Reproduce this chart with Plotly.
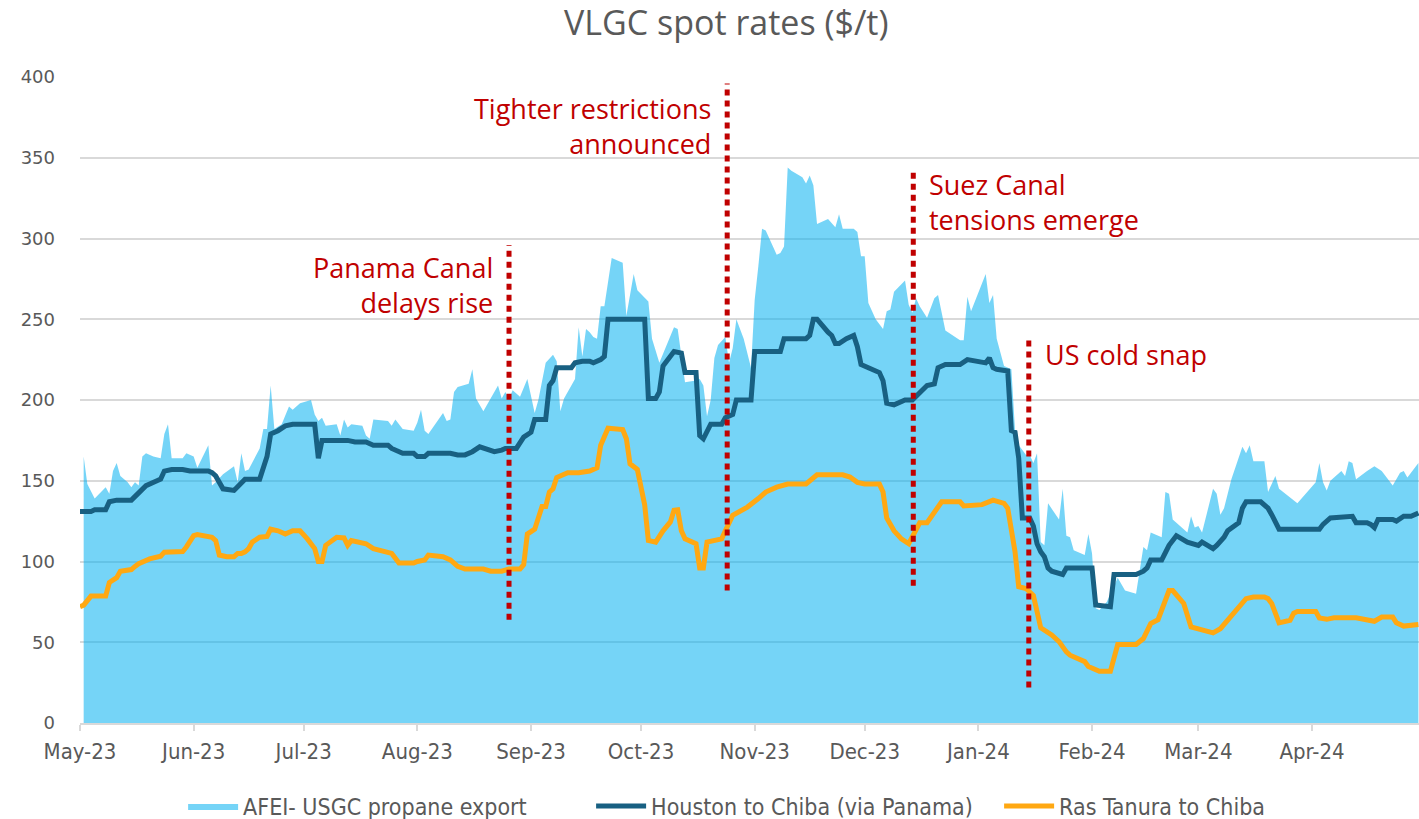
import plotly.graph_objects as go

# ---------------- data ----------------
afei_dates = [
    "2023-05-02","2023-05-03","2023-05-05","2023-05-08","2023-05-09","2023-05-10","2023-05-11","2023-05-12",
    "2023-05-14","2023-05-15","2023-05-16","2023-05-17","2023-05-18","2023-05-19","2023-05-21","2023-05-23",
    "2023-05-24","2023-05-25","2023-05-26","2023-05-29","2023-05-30","2023-06-01","2023-06-02","2023-06-05",
    "2023-06-06","2023-06-07","2023-06-09","2023-06-12","2023-06-13","2023-06-14","2023-06-15","2023-06-16",
    "2023-06-19","2023-06-20","2023-06-21","2023-06-22","2023-06-23","2023-06-25","2023-06-27","2023-06-28",
    "2023-06-29","2023-06-30","2023-07-03","2023-07-04","2023-07-05","2023-07-06","2023-07-07","2023-07-10",
    "2023-07-11","2023-07-12","2023-07-13","2023-07-14","2023-07-17","2023-07-18","2023-07-19","2023-07-20",
    "2023-07-24","2023-07-25","2023-07-26","2023-07-28","2023-07-31","2023-08-01","2023-08-02","2023-08-03",
    "2023-08-04","2023-08-08","2023-08-09","2023-08-10","2023-08-11","2023-08-12","2023-08-15","2023-08-16",
    "2023-08-17","2023-08-19","2023-08-23","2023-08-24","2023-08-25","2023-08-26","2023-08-27","2023-08-29",
    "2023-08-31","2023-09-02","2023-09-03","2023-09-05","2023-09-07","2023-09-08","2023-09-09","2023-09-10",
    "2023-09-13","2023-09-14","2023-09-15","2023-09-16","2023-09-17","2023-09-18","2023-09-19","2023-09-20",
    "2023-09-21","2023-09-23","2023-09-26","2023-09-27","2023-09-29","2023-09-30","2023-10-03","2023-10-04",
    "2023-10-06","2023-10-10","2023-10-11","2023-10-12","2023-10-13","2023-10-16","2023-10-17","2023-10-18",
    "2023-10-19","2023-10-20","2023-10-21","2023-10-22","2023-10-24","2023-10-25","2023-10-26","2023-10-27",
    "2023-10-29","2023-10-31","2023-11-01","2023-11-02","2023-11-03","2023-11-04","2023-11-07","2023-11-08",
    "2023-11-09","2023-11-10","2023-11-11","2023-11-14","2023-11-15","2023-11-16","2023-11-17","2023-11-18",
    "2023-11-21","2023-11-23","2023-11-24","2023-11-25","2023-11-28","2023-11-29","2023-11-30","2023-12-01",
    "2023-12-02","2023-12-04","2023-12-06","2023-12-07","2023-12-08","2023-12-09","2023-12-12","2023-12-13",
    "2023-12-14","2023-12-15","2023-12-16","2023-12-18","2023-12-20","2023-12-21","2023-12-23","2023-12-27",
    "2023-12-28","2023-12-29","2023-12-30","2024-01-03","2024-01-04","2024-01-05","2024-01-06","2024-01-08",
    "2024-01-10","2024-01-11","2024-01-12","2024-01-13","2024-01-14","2024-01-15","2024-01-16","2024-01-17",
    "2024-01-18","2024-01-19","2024-01-20","2024-01-23","2024-01-24","2024-01-25","2024-01-26","2024-01-27",
    "2024-01-30","2024-01-31","2024-02-01","2024-02-02","2024-02-03","2024-02-05","2024-02-06","2024-02-08",
    "2024-02-10","2024-02-13","2024-02-15","2024-02-16","2024-02-17","2024-02-20","2024-02-21","2024-02-22",
    "2024-02-23","2024-02-27","2024-02-28","2024-02-29","2024-03-01","2024-03-02","2024-03-05","2024-03-06",
    "2024-03-07","2024-03-08","2024-03-10","2024-03-13","2024-03-14","2024-03-15","2024-03-16","2024-03-19",
    "2024-03-20","2024-03-22","2024-03-23","2024-03-28","2024-04-02","2024-04-03","2024-04-04","2024-04-05",
    "2024-04-06","2024-04-09","2024-04-10","2024-04-11","2024-04-12","2024-04-13","2024-04-16","2024-04-18",
    "2024-04-20","2024-04-23","2024-04-25","2024-04-26","2024-04-27","2024-04-30",
]
afei_values = [
    165,148,139,146,142,156,161,153,
    149,146,149,147,165,167,165,164,
    179,185,164,164,167,165,158,172,
    147,149,154,159,149,167,156,157,
    170,182,182,209,182,185,196,194,
    196,198,200,191,187,189,184,185,
    178,188,183,185,184,178,176,188,
    187,184,188,182,181,186,194,181,
    179,192,187,188,205,208,210,219,
    201,193,209,201,205,201,206,202,
    213,192,200,223,228,224,193,201,
    213,245,227,244,242,239,238,258,
    258,288,285,252,278,268,261,238,
    223,245,244,229,211,212,213,209,
    190,200,226,234,239,223,232,250,
    238,220,262,283,306,305,290,291,
    295,344,342,338,334,339,333,309,
    312,307,315,306,306,304,289,289,
    260,250,244,255,256,267,274,259,
    254,263,258,251,263,265,243,237,
    237,264,255,278,260,265,238,221,
    219,181,172,169,166,166,161,167,
    112,110,136,126,145,116,115,107,
    104,117,105,71,70,75,80,90,
    82,80,109,107,118,115,143,142,
    126,118,128,121,122,118,145,142,
    129,133,151,171,167,172,162,162,
    143,153,145,136,149,161,149,144,
    150,156,153,162,161,151,156,159,
    156,147,155,156,152,161,
]

houston_dates = [
    "2023-05-01","2023-05-04","2023-05-05","2023-05-08","2023-05-09","2023-05-11","2023-05-15","2023-05-16",
    "2023-05-17","2023-05-19","2023-05-22","2023-05-23","2023-05-24","2023-05-26","2023-05-29","2023-05-31",
    "2023-06-05","2023-06-06","2023-06-07","2023-06-09","2023-06-12","2023-06-14","2023-06-15","2023-06-19",
    "2023-06-21","2023-06-22","2023-06-24","2023-06-26","2023-06-28","2023-07-04","2023-07-05","2023-07-06",
    "2023-07-13","2023-07-15","2023-07-18","2023-07-20","2023-07-24","2023-07-25","2023-07-26","2023-07-28",
    "2023-07-31","2023-08-01","2023-08-03","2023-08-04","2023-08-10","2023-08-12","2023-08-14","2023-08-16",
    "2023-08-18","2023-08-22","2023-08-24","2023-08-25","2023-08-28","2023-08-30","2023-09-01","2023-09-02",
    "2023-09-05","2023-09-06","2023-09-07","2023-09-08","2023-09-12","2023-09-13","2023-09-15","2023-09-17",
    "2023-09-18","2023-09-20","2023-09-21","2023-09-22","2023-10-02","2023-10-03","2023-10-05","2023-10-06",
    "2023-10-07","2023-10-10","2023-10-12","2023-10-13","2023-10-16","2023-10-17","2023-10-18","2023-10-19",
    "2023-10-20","2023-10-23","2023-10-24","2023-10-26","2023-10-27","2023-10-31","2023-11-01","2023-11-08",
    "2023-11-09","2023-11-15","2023-11-16","2023-11-17","2023-11-18","2023-11-21","2023-11-22","2023-11-23",
    "2023-11-24","2023-11-26","2023-11-28","2023-11-29","2023-11-30","2023-12-02","2023-12-05","2023-12-06",
    "2023-12-07","2023-12-09","2023-12-12","2023-12-14","2023-12-16","2023-12-18","2023-12-20","2023-12-21",
    "2023-12-23","2023-12-27","2023-12-29","2024-01-03","2024-01-04","2024-01-05","2024-01-06","2024-01-09",
    "2024-01-10","2024-01-11","2024-01-12","2024-01-13","2024-01-15","2024-01-16","2024-01-17","2024-01-18",
    "2024-01-19","2024-01-20","2024-01-21","2024-01-24","2024-01-25","2024-02-01","2024-02-02","2024-02-06",
    "2024-02-07","2024-02-13","2024-02-15","2024-02-16","2024-02-17","2024-02-20","2024-02-22","2024-02-24",
    "2024-02-27","2024-03-01","2024-03-02","2024-03-05","2024-03-06","2024-03-08","2024-03-09","2024-03-12",
    "2024-03-13","2024-03-14","2024-03-18","2024-03-20","2024-03-21","2024-03-23","2024-04-03","2024-04-04",
    "2024-04-06","2024-04-12","2024-04-13","2024-04-16","2024-04-17","2024-04-18","2024-04-19","2024-04-23",
    "2024-04-24","2024-04-26","2024-04-28","2024-04-30",
]
houston_values = [
    131,131,132,132,137,138,138,140,
    142,147,150,151,156,157,157,156,
    156,155,153,145,144,148,151,151,
    165,179,181,184,185,185,164,175,
    175,174,174,172,172,170,169,167,
    167,165,165,167,167,166,166,168,
    171,168,169,170,170,177,180,188,
    188,209,212,220,220,223,224,224,
    223,225,227,250,250,201,201,205,
    221,230,229,217,217,178,176,180,
    185,185,189,191,200,200,230,230,
    238,238,240,250,250,242,240,235,
    235,238,240,233,222,220,217,212,
    198,197,200,200,205,209,210,220,
    222,222,225,223,226,220,219,218,
    181,180,164,127,127,122,111,106,
    103,96,94,92,96,96,73,72,
    92,92,94,96,101,101,110,116,
    112,110,112,108,110,115,119,124,
    133,137,137,133,129,120,120,123,
    127,128,124,124,123,121,126,126,
    125,128,128,130,
]

ras_dates = [
    "2023-05-01","2023-05-02","2023-05-04","2023-05-08","2023-05-09","2023-05-10","2023-05-11","2023-05-12",
    "2023-05-15","2023-05-16","2023-05-17","2023-05-20","2023-05-23","2023-05-24","2023-05-29","2023-05-30",
    "2023-06-01","2023-06-02","2023-06-06","2023-06-07","2023-06-08","2023-06-10","2023-06-12","2023-06-13",
    "2023-06-14","2023-06-15","2023-06-16","2023-06-17","2023-06-19","2023-06-21","2023-06-22","2023-06-24",
    "2023-06-26","2023-06-28","2023-06-30","2023-07-02","2023-07-04","2023-07-05","2023-07-06","2023-07-07",
    "2023-07-10","2023-07-12","2023-07-13","2023-07-14","2023-07-16","2023-07-18","2023-07-20","2023-07-22",
    "2023-07-25","2023-07-27","2023-07-31","2023-08-01","2023-08-03","2023-08-04","2023-08-08","2023-08-10",
    "2023-08-12","2023-08-14","2023-08-19","2023-08-21","2023-08-24","2023-08-26","2023-08-29","2023-08-30",
    "2023-08-31","2023-09-02","2023-09-04","2023-09-05","2023-09-06","2023-09-07","2023-09-08","2023-09-11",
    "2023-09-14","2023-09-17","2023-09-19","2023-09-20","2023-09-22","2023-09-26","2023-09-27","2023-09-28",
    "2023-09-30","2023-10-02","2023-10-03","2023-10-05","2023-10-07","2023-10-09","2023-10-10","2023-10-11",
    "2023-10-12","2023-10-13","2023-10-16","2023-10-17","2023-10-18","2023-10-19","2023-10-21","2023-10-23",
    "2023-10-24","2023-10-26","2023-10-30","2023-10-31","2023-11-02","2023-11-04","2023-11-07","2023-11-10",
    "2023-11-15","2023-11-18","2023-11-25","2023-11-27","2023-11-29","2023-12-01","2023-12-05","2023-12-06",
    "2023-12-07","2023-12-09","2023-12-11","2023-12-13","2023-12-15","2023-12-16","2023-12-18","2023-12-20",
    "2023-12-22","2023-12-27","2023-12-28","2024-01-02","2024-01-05","2024-01-08","2024-01-09","2024-01-11",
    "2024-01-12","2024-01-14","2024-01-16","2024-01-17","2024-01-18","2024-01-21","2024-01-23","2024-01-25",
    "2024-01-26","2024-01-30","2024-01-31","2024-02-03","2024-02-06","2024-02-08","2024-02-13","2024-02-15",
    "2024-02-17","2024-02-19","2024-02-21","2024-02-22","2024-02-23","2024-02-24","2024-02-26","2024-02-28",
    "2024-03-01","2024-03-05","2024-03-07","2024-03-09","2024-03-11","2024-03-12","2024-03-14","2024-03-16",
    "2024-03-19","2024-03-20","2024-03-21","2024-03-23","2024-03-26","2024-03-27","2024-03-28","2024-04-02",
    "2024-04-03","2024-04-05","2024-04-07","2024-04-13","2024-04-16","2024-04-18","2024-04-20","2024-04-23",
    "2024-04-24","2024-04-26","2024-04-30",
]
ras_values = [
    72,73,78.6,78.6,87,89,90,94,
    95,97,98.6,101.6,103.3,105.8,106.2,109,
    116,116.7,115,113,104,103,103,105,
    105,106,108,112,115,115.5,120,119,
    117,119,119,114,108,100,100,110,
    115,114.6,110,113,112,111,108,107,
    105,99,99,100,101,104,103,101,
    97,95.3,95.3,94,94,95.3,95.3,98,
    117,120,134,134,143,145,152,155,
    155,156,158,172,182.5,181.7,176,160.5,
    157,135,113,112,119,124.5,131.7,132,
    119,114,111,96,96,112,113,114,
    119,128.6,133.7,135.8,139,143,146,148,
    148,153.7,153.7,152.3,149,148,148,143,
    127,119,114,111,120,124,124,130,
    137,137,134.4,135.2,138,136,133,106,
    84.4,83.3,79,69,59,54.5,50.4,44,
    42,38,35,32,32,48.6,48.6,52.3,
    61.5,64,77,82,82,79,74,59.5,
    58.4,55.8,58.4,63.6,68.7,71.8,77,78,
    78,77,74,62,63.6,68,69,69,
    65,64.2,65.2,65.2,64.2,63,65.6,65.6,
    62,60,61,
]

# event markers
event_dates = ["2023-08-26", "2023-10-24 12:00", "2023-12-14 06:00", "2024-01-14 18:00"]
event_labels = ["Panama Canal<br>delays rise", "Tighter restrictions<br>announced",
                "Suez Canal<br>tensions emerge", "US cold snap"]
event_line_bottom = [64, 82, 85, 22]
event_line_top = [296, 396, 342, 238]
event_label_y = [271.5, 369.5, 322.5, 228]
event_label_side = ["left", "left", "right", "right"]

series_names = ["AFEI- USGC propane export", "Houston to Chiba (via Panama)", "Ras Tanura to Chiba"]
title_text = "VLGC spot rates ($/t)"
y_ticks = [0, 50, 100, 150, 200, 250, 300, 350, 400]

# ---------------- figure ----------------
GREY = "#595959"
RED = "#C00000"
NARROW = "DejaVu Sans Condensed, Liberation Sans Narrow, sans-serif"

fig = go.Figure()
fig.add_trace(go.Scatter(
    x=afei_dates, y=afei_values, name=series_names[0], mode="lines",
    line=dict(width=0, color="rgba(0,176,240,0.55)"), fill="tozeroy",
    fillcolor="rgba(0,176,240,0.54)"))
fig.add_trace(go.Scatter(
    x=houston_dates, y=houston_values, name=series_names[1], mode="lines",
    line=dict(width=5, color="#186082")))
fig.add_trace(go.Scatter(
    x=ras_dates, y=ras_values, name=series_names[2], mode="lines",
    line=dict(width=5, color="#FFA812")))

for d, lo, hi in zip(event_dates, event_line_bottom, event_line_top):
    fig.add_trace(go.Scatter(
        x=[d, d], y=[lo, hi], mode="lines", showlegend=False, hoverinfo="skip",
        line=dict(color=RED, width=5, dash="6px,5px")))

for d, txt, yv, side in zip(event_dates, event_labels, event_label_y, event_label_side):
    fig.add_annotation(
        x=d, y=yv, xref="x", yref="y", text=txt, showarrow=False,
        xanchor="right" if side == "left" else "left", yanchor="middle",
        align="right" if side == "left" else "left",
        xshift=-14 if side == "left" else 14,
        font=dict(family="Open Sans", size=27, color=RED))

fig.add_annotation(
    x=0.4825, xref="paper", y=1 + (77 - 22) / 646, yref="paper",
    text=title_text, showarrow=False, xanchor="center", yanchor="middle",
    font=dict(family="Open Sans", size=34, color=GREY))

fig.update_layout(
    width=1419, height=819,
    margin=dict(l=80, r=0, t=77, b=96, autoexpand=False),
    paper_bgcolor="white", plot_bgcolor="white",
    showlegend=True,
    legend=dict(orientation="h", x=0.077, xref="paper", xanchor="left",
                y=1 - 806 / 819, yref="container", yanchor="middle",
                font=dict(family=NARROW, size=23, color=GREY),
                itemwidth=50, entrywidth=343, traceorder="normal"),
)
fig.update_xaxes(
    type="date", range=["2023-05-01", "2024-04-30 04:00"], automargin=False,
    tick0="2023-05-01", dtick="M1", tickformat="%b-%y",
    showgrid=False, showline=True, linecolor="#D9D9D9", linewidth=1.5,
    ticks="outside", ticklen=6, tickcolor="#D9D9D9", tickwidth=1.5,
    tickfont=dict(family=NARROW, size=22, color=GREY),
    ticklabelstandoff=2, zeroline=False)
fig.update_yaxes(
    range=[0, 400], tickvals=y_ticks, automargin=False,
    showgrid=True, gridcolor="#D9D9D9", gridwidth=1.5,
    zeroline=False, showline=False, ticks="",
    tickfont=dict(family="DejaVu Sans", size=18, color=GREY),
    ticklabelstandoff=24)

fig.write_html("out.html", config={"displayModeBar": False},
               post_script="document.body.style.margin='0';document.body.style.overflow='hidden';")
